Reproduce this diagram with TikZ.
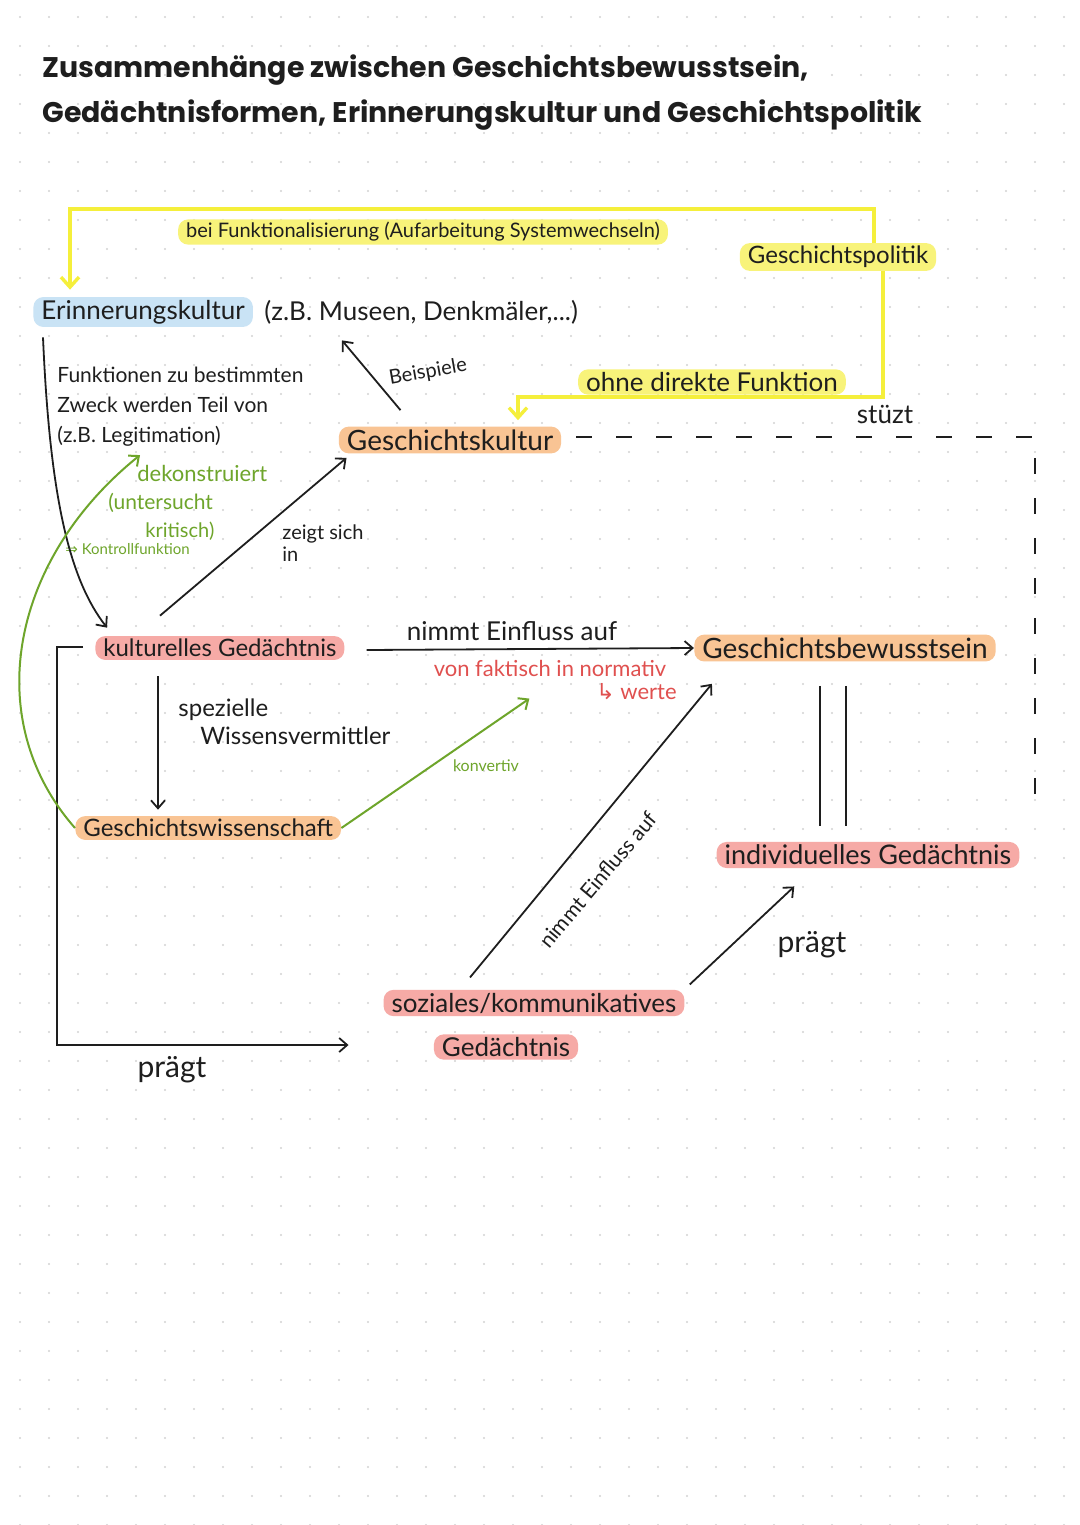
\documentclass[tikz,border=0pt]{standalone}
\usepackage{fontspec}
\setmainfont{Lato}
\newfontfamily\titlefont{Poppins}
\newfontfamily\symfont{DejaVu Sans}
\usetikzlibrary{arrows.meta,calc}
\definecolor{ylw}{HTML}{F5EF3B}
\definecolor{ylwhl}{HTML}{F8F37A}
\definecolor{orahl}{HTML}{F9C494}
\definecolor{pinkhl}{HTML}{F6AAA6}
\definecolor{bluehl}{HTML}{C9E3F5}
\definecolor{grn}{HTML}{6EA52B}
\definecolor{rd}{HTML}{E0504F}
\definecolor{ink}{HTML}{1E1E1E}
\definecolor{dotc}{HTML}{D2D2D2}
\newcommand\fsx[1]{\fontsize{#1}{#1}\selectfont}
\begin{document}
\begin{tikzpicture}[x=0.5pt,y=-0.5pt,
  txt/.style={inner sep=1pt, text=ink},
  hl/.style={txt, rounded corners=5pt, inner xsep=4pt, inner ysep=1.5pt},
  hly/.style={hl, fill=ylwhl},
  hlo/.style={hl, fill=orahl},
  hlp/.style={hl, fill=pinkhl},
  hlb/.style={hl, fill=bluehl},
  gtxt/.style={inner sep=1pt, text=grn},
  rtxt/.style={inner sep=1pt, text=rd},
  tip/.style={-{Straight Barb[length=4pt,width=7pt]}},
  bk/.style={draw=ink, line width=0.9pt, tip},
  bkl/.style={draw=ink, line width=0.9pt},
  yl/.style={draw=ylw, line width=1.7pt, -{Straight Barb[length=5pt,width=9pt]}},
  gr/.style={draw=grn, line width=1pt, tip},
  dsh/.style={draw=ink, line width=0.9pt, dash pattern=on 8pt off 12pt}
]
\useasboundingbox (0,0) rectangle (1080,1525);
\fill[white] (0,0) rectangle (1080,1525);
\foreach \i in {0,...,36} {
  \foreach \j in {0,...,52} {
    \fill[dotc] ({20+29*\i},{17+29*\j}) circle (0.6pt);
  }
}
% title
\node[txt, anchor=base west, font=\titlefont\bfseries\fsx{14.2}] (t1) at (40,78) {Zusammenhänge zwischen Geschichtsbewusstsein,};
\node[txt, anchor=base west, font=\titlefont\bfseries\fsx{14.2}] (t2) at (40,122) {Gedächtnisformen, Erinnerungskultur und Geschichtspolitik};
% nodes
\node[hly, font=\fsx{10}] (bf) at (423,232) {bei Funktionalisierung (Aufarbeitung Systemwechseln)};
\node[hly, font=\fsx{12}] (gpol) at (838,257) {Geschichtspolitik};
\node[hly, font=\fsx{13}] (odf) at (712,382) {ohne direkte Funktion};
\node[txt, font=\fsx{13}] (stz) at (885,414) {stüzt};
\node[hlb, font=\fsx{13}, anchor=west] (erk) at (33,312) {Erinnerungskultur};
\node[txt, font=\fsx{13}, anchor=west] (zb) at (262,312) {(z.B. Museen, Denkmäler,...)};
\node[txt, font=\fontsize{10.5}{15}\selectfont, anchor=north west, align=left] (fn) at (55,365) {Funktionen zu bestimmten\\Zweck werden Teil von\\(z.B. Legitimation)};
\node[txt, font=\fsx{10}, rotate=10] (bsp) at (428,372) {Beispiele};
\node[hlo, font=\fsx{14}] (gk) at (450,440) {Geschichtskultur};
\node[gtxt, font=\fsx{11}, anchor=west] (dek) at (135,473) {dekonstruiert};
\node[gtxt, font=\fsx{10.5}, anchor=west] (unt) at (106,503) {(untersucht};
\node[gtxt, font=\fsx{10}, anchor=west] (krit) at (143,531) {kritisch)};
\node[gtxt, font=\fsx{7.5}, anchor=west] (kon) at (63,549) {{\symfont ⇒} Kontrollfunktion};
\node[txt, font=\fontsize{10}{11}\selectfont, align=left, anchor=west] (zsi) at (280,543) {zeigt sich\\in};
\node[hlp, font=\fsx{12}, anchor=west] (kg) at (95,648) {kulturelles Gedächtnis};
\node[txt, font=\fsx{13}] (nea) at (512,631) {nimmt Einfluss auf};
\node[rtxt, font=\fsx{11}] (vfn) at (550,668) {von faktisch in normativ};
\node[rtxt, font=\fsx{11}, anchor=west] (wer) at (594,692) {{\symfont ↳} werte};
\node[hlo, font=\fsx{14}] (gb) at (845,648) {Geschichtsbewusstsein};
\node[txt, font=\fsx{12}, anchor=west] (spz) at (176,710) {spezielle};
\node[txt, font=\fsx{12}, anchor=west] (wvm) at (198,736) {Wissensvermittler};
\node[gtxt, font=\fsx{8}] (kv) at (486,766) {konvertiv};
\node[hlo, font=\fsx{12}, anchor=west] (gw) at (75,828) {Geschichtswissenschaft};
\node[hlp, font=\fsx{13.5}] (ig) at (868,855) {individuelles Gedächtnis};
\node[txt, font=\fsx{15}] (pr2) at (812,945) {prägt};
\node[hlp, font=\fsx{13}] (soz) at (534,1003) {soziales/kommunikatives};
\node[hlp, font=\fsx{13}] (sg) at (506,1047) {Gedächtnis};
\node[txt, font=\fsx{15}] (pr1) at (172,1070) {prägt};
\node[txt, font=\fsx{10.5}, rotate=50] (ne2) at (598,880) {nimmt Einfluss auf};
% connectors
\coordinate (ytop) at (470,209);
\coordinate (ymid) at (700,397);
\coordinate (dend) at (1035,795);
\coordinate (pbot) at (57,1045);
\draw[yl] ($(gpol.north)+(36,0)$) |- (ytop) -| ($(erk.north west)+(37,-7)$);
\draw[yl] ($(gpol.south)+(45,0)$) |- (ymid) -| ($(gk.north)+(68,-6)$);
\draw[dsh] ($(gk.east)+(15,-3)$) -| (dend);
\draw[bk] ($(erk.south west)+(10,10)$) .. controls (50,500) and (70,580) .. ($(kg.north west)+(12,-8)$);
\draw[bk] ($(gk.north west)+(62,-16)$) -- ($(zb.south west)+(80,14)$);
\draw[bk] ($(kg.north west)+(65,-20)$) -- ($(gk.south west)+(8,4)$);
\draw[bk] ($(kg.south west)+(63,16)$) coordinate (k1) -- ($(k1 |- gw.north)+(0,-6)$);
\draw[bk] ($(kg.west)+(-12,-1)$) -| (pbot) -- ($(sg.west)+(-85,-2)$);
\draw[bk] ($(kg.east)+(22,2)$) -- (gb.west);
\draw[gr] (gw.west) .. controls (-20,720) and (10,560) .. ($(fn.south west)+(85,6)$);
\draw[gr] (gw.east) -- ($(vfn.south west)+(98,20)$);
\draw[bk] ($(soz.north)+(-64,-12)$) -- ($(gb.south west)+(18,22)$);
\draw[bk] ($(soz.north east)+(5,-5)$) -- ($(ig.south west)+(78,18)$);
\draw[bkl] ($(gb.south)+(-25,24)$) coordinate (d1) -- ($(d1 |- ig.north)+(0,-16)$);
\draw[bkl] ($(gb.south)+(1,24)$) coordinate (d2) -- ($(d2 |- ig.north)+(0,-16)$);
\end{tikzpicture}
\end{document}
